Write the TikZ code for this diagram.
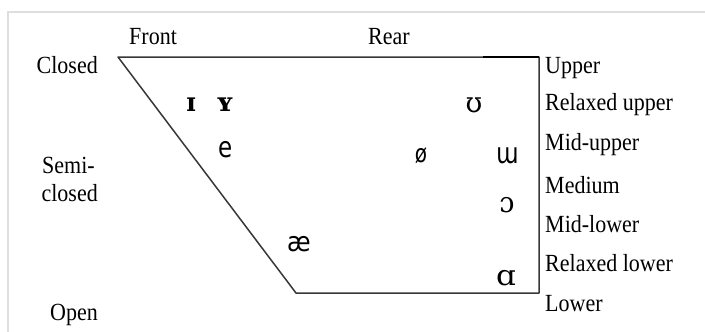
\documentclass[tikz,border=0pt]{standalone}
\usepackage{fontspec}
\setmainfont{Liberation Serif}
\newfontfamily\ipasans{DejaVu Sans}
\newfontfamily\ipaserif{DejaVu Serif}
\begin{document}
\begin{tikzpicture}[x=1pt,y=-1pt,
  lbl/.style={inner sep=0pt,font=\fontsize{22}{22}\selectfont,yscale=1.12,transform shape},
  vs/.style={inner sep=0pt,font=\ipasans\fontsize{23}{23}\selectfont,yscale=1.25,transform shape},
  vr/.style={inner sep=0pt,font=\ipaserif\fontsize{27}{27}\selectfont,yscale=1.05,transform shape},
  edge/.style={draw=black!78,line width=1.5pt,line cap=round,line join=round}]
\useasboundingbox (0,0) rectangle (705,332);
\fill[white] (0,0) rectangle (705,332);
% faint frame
\coordinate (f1) at (705,12);
\coordinate (f2) at (8,12);
\coordinate (f3) at (8,332);
\draw[black!13,line width=1.2pt] (f1) -- (f2) -- (f3);
% trapezoid
\coordinate (tl) at (118,57);
\coordinate (tr) at (539,57);
\coordinate (br) at (539,293);
\coordinate (bl) at (296,293);
\coordinate (tk) at (483,57);
\draw[edge] (tl) -- (tr) -- (br) -- (bl) -- cycle;
\draw[black,line width=2pt] (tk) -- (tr);
% top labels
\node[lbl,anchor=base west] (front) at (129,45) {Front};
\node[lbl,anchor=base west] (rear) at (368,45) {Rear};
% left labels
\node[lbl,anchor=base east] (closed) at (98,73) {Closed};
\node[lbl,anchor=base east] (semi) at (95,173) {Semi-};
\node[lbl,anchor=base east] (semic) at (98,201) {closed};
\node[lbl,anchor=base east] (open) at (98,320) {Open};
% right labels
\node[lbl,anchor=base west] (r1) at (545,73) {Upper};
\node[lbl,anchor=base west] (r2) at (545,110) {Relaxed upper};
\node[lbl,anchor=base west] (r3) at (545,150) {Mid-upper};
\node[lbl,anchor=base west] (r4) at (545,193) {Medium};
\node[lbl,anchor=base west] (r5) at (545,232) {Mid-lower};
\node[lbl,anchor=base west] (r6) at (545,271) {Relaxed lower};
\node[lbl,anchor=base west] (r7) at (545,311) {Lower};
% vowels
\node[vr,font=\ipaserif\bfseries\fontsize{25}{25}\selectfont] (v1) at (191,105) {ɪ};
\node[vr,font=\ipaserif\bfseries\fontsize{25}{25}\selectfont] (v2) at (225,105) {ʏ};
\node[vs] (v3) at (226,150) {e};
\node[vr] (v4) at (474,105) {ʊ};
\node[vs,font=\ipasans\fontsize{20}{20}\selectfont] (v5) at (421,156) {ø};
\node[vs] (v6) at (508,156) {ɯ};
\node[vr] (v7) at (507,205) {ɔ};
\node[vs,font=\ipasans\fontsize{24}{24}\selectfont,yscale=0.9] (v8) at (299,244) {æ};
\node[vr,xscale=1.15] (v9) at (506,278) {ɑ};
\end{tikzpicture}
\end{document}
